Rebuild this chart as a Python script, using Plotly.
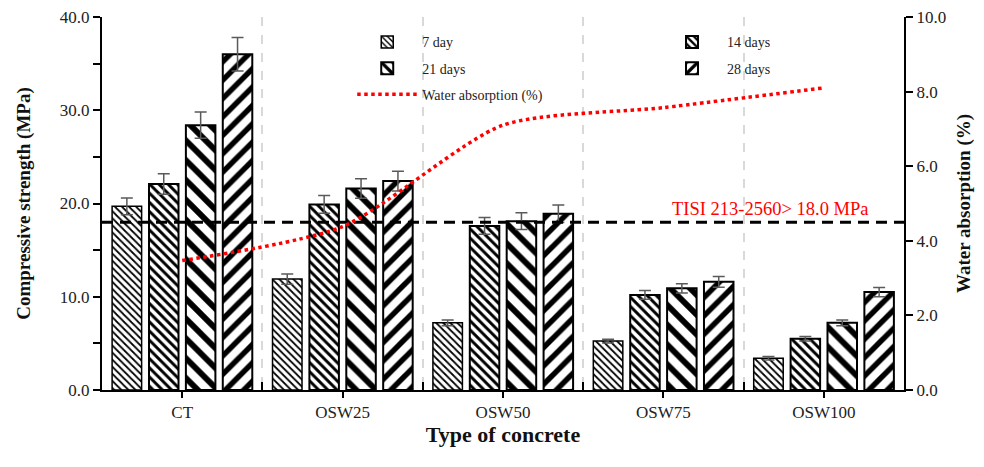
import plotly.graph_objects as go

categories = ["CT", "OSW25", "OSW50", "OSW75", "OSW100"]
x_pos = [0, 1, 2, 3, 4]
day7 = [19.7, 11.9, 7.2, 5.25, 3.4]
day14 = [22.1, 19.9, 17.6, 10.2, 5.5]
day21 = [28.4, 21.6, 18.1, 10.9, 7.2]
day28 = [36.0, 22.4, 18.9, 11.6, 10.5]
err7 = [0.9, 0.55, 0.32, 0.2, 0.18]
err14 = [1.1, 0.95, 0.9, 0.47, 0.25]
err21 = [1.4, 1.05, 0.9, 0.5, 0.32]
err28 = [1.8, 1.07, 0.93, 0.57, 0.5]
water_abs = [3.47, 4.38, 7.1, 7.57, 8.1]
threshold_x = [-0.5, 4.5]
threshold_y = [18.0, 18.0]
boundaries = [0.5, 1.5, 2.5, 3.5]

FONT = "Liberation Serif"

fig = go.Figure()

series = [
    ("7 day", day7, err7, "\\", 5, 0.35, 1.5, "legend", "g1"),
    ("14 days", day14, err14, "\\", 6.5, 0.45, 2, "legend2", "g2"),
    ("21 days", day21, err21, "\\", 14, 0.42, 2, "legend", "g3"),
    ("28 days", day28, err28, "/", 13, 0.42, 2, "legend2", "g4"),
]
for name, vals, errs, shp, size, sol, lw, leg, grp in series:
    fig.add_trace(go.Bar(
        x=x_pos, y=vals, name=name, legend=leg, legendgroup=grp,
        marker=dict(color="white",
                    line=dict(color="black", width=lw),
                    pattern=dict(shape=shp, size=size, solidity=sol,
                                 fgcolor="black", bgcolor="white", fillmode="replace")),
        error_y=dict(type="data", array=errs, visible=True,
                     color="#5a5a5a", thickness=1.5, width=6),
    ))

fig.add_trace(go.Scatter(
    x=threshold_x, y=threshold_y, mode="lines", showlegend=False,
    line=dict(color="black", width=3, dash="11px,7px"), hoverinfo="skip",
))

fig.add_trace(go.Scatter(
    x=x_pos, y=water_abs, name="Water absorption (%)", yaxis="y2",
    legend="legend", legendgroup="g5",
    mode="lines", line=dict(color="#ff0000", width=3.5, dash="dot",
                            shape="spline", smoothing=0.7),
))

fig.add_annotation(
    text="TISI 213-2560> 18.0 MPa", xref="paper", yref="y",
    x=0.833, y=19.4, xanchor="center", yanchor="middle", showarrow=False,
    font=dict(family=FONT, size=18.5, color="#ff0000"),
)

legend_common = dict(
    orientation="v", yanchor="top", xanchor="left",
    itemwidth=60, traceorder="grouped", tracegroupgap=5,
    font=dict(family=FONT, size=14, color="#222"),
    bgcolor="rgba(0,0,0,0)",
)

fig.update_layout(
    width=976, height=459,
    margin=dict(l=94, r=80, t=9, b=77, autoexpand=False),
    paper_bgcolor="white", plot_bgcolor="white",
    font=dict(family=FONT, size=17, color="#222"),
    barmode="group", bargap=0.08, bargroupgap=0.2,
    showlegend=True,
    legend=dict(x=0.312, y=0.975, **legend_common),
    legend2=dict(x=0.692, y=0.975, **legend_common),
    xaxis=dict(
        range=[-0.5, 4.5], tickvals=x_pos, ticktext=categories,
        automargin=False,
        showline=True, linecolor="black", linewidth=2,
        ticks="outside", ticklen=6, tickwidth=1.5, tickcolor="black",
        showgrid=False, zeroline=False,
        minor=dict(tickmode="array", tickvals=boundaries, ticks="inside",
                   ticklen=8, tickwidth=1.5, tickcolor="black",
                   showgrid=True, gridcolor="#d9d9d9", gridwidth=2, griddash="dash"),
        title=dict(text="<b>Type of concrete</b>", font=dict(family=FONT, size=22, color="#111"), standoff=4),
        tickfont=dict(family=FONT, size=17, color="#222"),
    ),
    yaxis=dict(
        range=[0, 40], dtick=10, tickformat=".1f", ticklabeloverflow="allow",
        automargin=False,
        showline=True, linecolor="black", linewidth=2,
        ticks="outside", ticklen=7, tickwidth=1.5, tickcolor="black",
        minor=dict(dtick=5, ticks="outside", ticklen=7, tickwidth=1.5, tickcolor="black", showgrid=False),
        showgrid=False, zeroline=False,
        title=dict(text="<b>Compressive strength (MPa)</b>", font=dict(family=FONT, size=19, color="#111"), standoff=24),
        tickfont=dict(family=FONT, size=17, color="#222"),
    ),
    yaxis2=dict(
        range=[0, 10], dtick=2, tickformat=".1f", overlaying="y", side="right",
        ticklabeloverflow="allow", automargin=False,
        showline=True, linecolor="black", linewidth=2,
        ticks="outside", ticklen=7, tickwidth=1.5, tickcolor="black",
        showgrid=False, zeroline=False,
        title=dict(text="<b>Water absorption (%)</b>", font=dict(family=FONT, size=19, color="#111"), standoff=12),
        tickfont=dict(family=FONT, size=17, color="#222"),
    ),
)

fig.write_html("out.html")
